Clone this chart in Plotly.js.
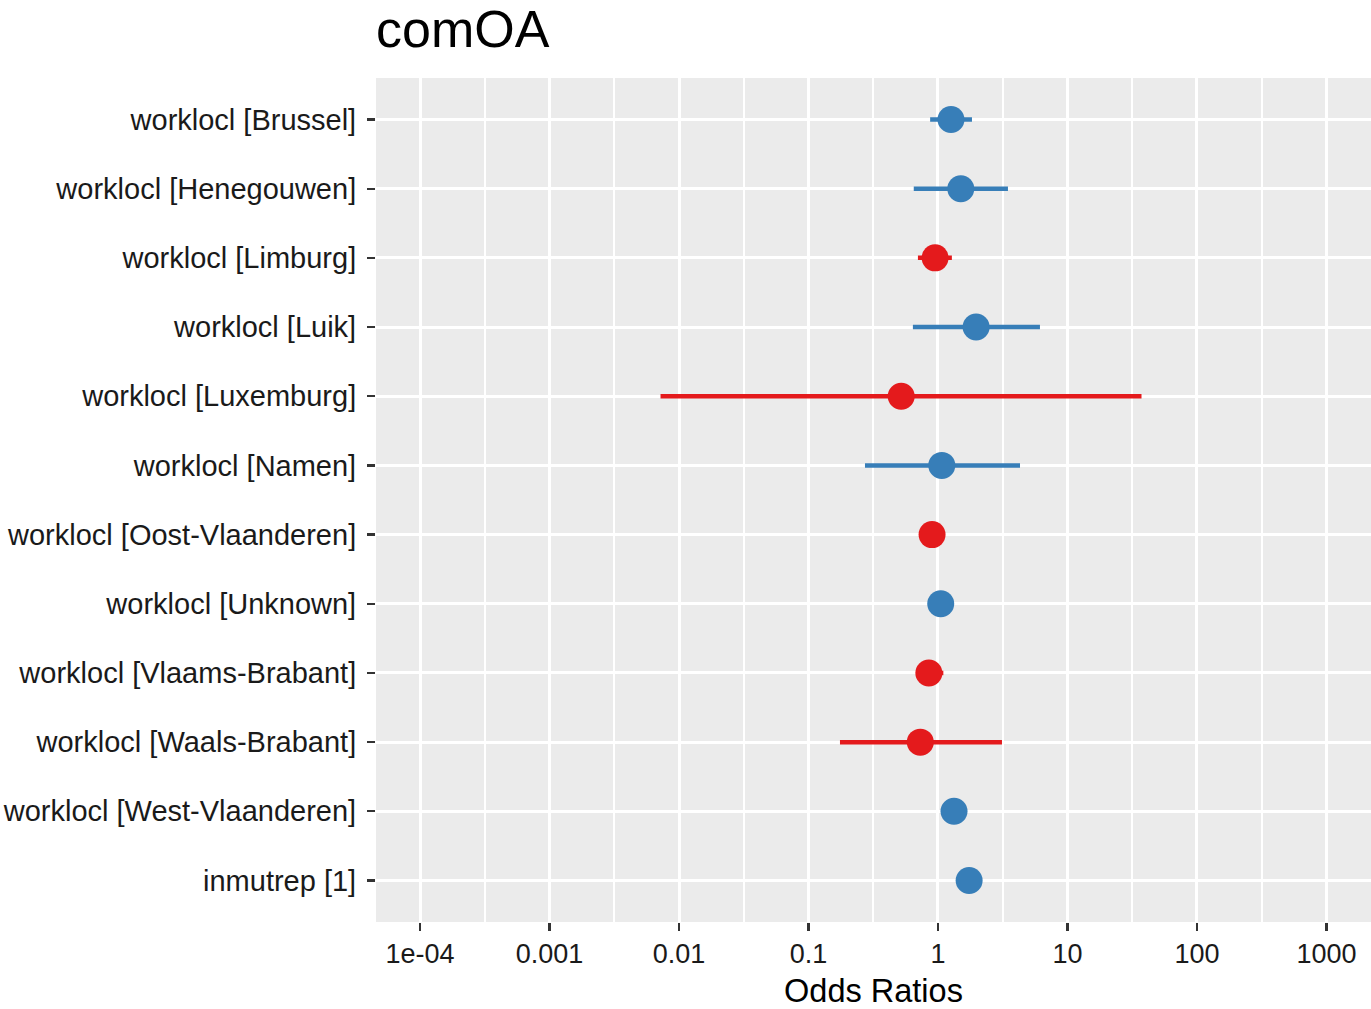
<!DOCTYPE html>
<html>
<head>
<meta charset="utf-8">
<script src="https://cdn.plot.ly/plotly-3.0.1.min.js"></script>
<style>html,body{margin:0;padding:0;background:#fff;}#chart{width:1371px;height:1009px;}</style>
</head>
<body>
<div id="chart"></div>
<script>
const terms = [
  "worklocl [Brussel]",
  "worklocl [Henegouwen]",
  "worklocl [Limburg]",
  "worklocl [Luik]",
  "worklocl [Luxemburg]",
  "worklocl [Namen]",
  "worklocl [Oost-Vlaanderen]",
  "worklocl [Unknown]",
  "worklocl [Vlaams-Brabant]",
  "worklocl [Waals-Brabant]",
  "worklocl [West-Vlaanderen]",
  "inmutrep [1]"
];
const estimates = [1.26, 1.50, 0.95, 1.97, 0.52, 1.07, 0.90, 1.05, 0.85, 0.73, 1.33, 1.74];
const ciLow    = [0.87, 0.65, 0.70, 0.64, 0.0072, 0.273, 0.82, 0.96, 0.68, 0.175, 1.22, 1.52];
const ciHigh   = [1.83, 3.47, 1.28, 6.13, 37.3, 4.3, 0.98, 1.14, 1.10, 3.12, 1.45, 1.98];
const xTickVals = [1e-4, 0.001, 0.01, 0.1, 1, 10, 100, 1000];
const xTickText = ["1e-04", "0.001", "0.01", "0.1", "1", "10", "100", "1000"];

const BLUE = "#377EB8", RED = "#E41A1C";

function makeTrace(pred, color) {
  const idx = estimates.map((v, i) => i).filter(i => pred(estimates[i]));
  return {
    type: "scatter", mode: "markers",
    x: idx.map(i => estimates[i]),
    y: idx.map(i => terms[i]),
    marker: {color: color, size: 27},
    error_x: {
      type: "data", symmetric: false,
      array: idx.map(i => ciHigh[i] - estimates[i]),
      arrayminus: idx.map(i => estimates[i] - ciLow[i]),
      color: color, thickness: 4.5, width: 0
    },
    showlegend: false, hoverinfo: "x+y"
  };
}

const minorVals = [];
for (let k = -5; k <= 3; k++) minorVals.push(Math.pow(10, k + 0.5));

const data = [makeTrace(v => v >= 1, BLUE), makeTrace(v => v < 1, RED)];

const layout = {
  width: 1371, height: 1009,
  margin: {l: 376, r: 0, t: 78, b: 87},
  paper_bgcolor: "#FFFFFF",
  plot_bgcolor: "#EBEBEB",
  font: {family: "Liberation Sans, Arial, sans-serif", color: "#000"},
  title: {
    text: "comOA", x: 0, xref: "paper", xanchor: "left",
    y: 1, yref: "paper", yanchor: "bottom", pad: {b: 31},
    font: {size: 52, color: "#000"}
  },
  xaxis: {
    type: "log",
    range: [-4.34, 3.344],
    tickmode: "array", tickvals: xTickVals, ticktext: xTickText,
    showgrid: true, gridcolor: "#FFFFFF", gridwidth: 3,
    minor: {tickmode: "array", tickvals: minorVals, showgrid: true, gridcolor: "#FFFFFF", gridwidth: 1.6, ticks: ""},
    zeroline: false, showline: false,
    ticks: "outside", ticklen: 8, tickwidth: 2.2, tickcolor: "#333333",
    tickfont: {size: 27, color: "#1a1a1a"},
    title: {text: "Odds Ratios", font: {size: 32.5, color: "#000"}, standoff: 17},
    fixedrange: true
  },
  yaxis: {
    type: "category",
    categoryorder: "array", categoryarray: terms,
    range: [11.6, -0.6],
    showgrid: true, gridcolor: "#FFFFFF", gridwidth: 3,
    zeroline: false, showline: false,
    ticks: "outside", ticklen: 8, tickwidth: 2.2, tickcolor: "#333333",
    tickfont: {size: 29, color: "#1a1a1a"},
    ticklabelstandoff: 5,
    fixedrange: true
  }
};

Plotly.newPlot("chart", data, layout, {displayModeBar: false, staticPlot: true});
</script>
</body>
</html>
